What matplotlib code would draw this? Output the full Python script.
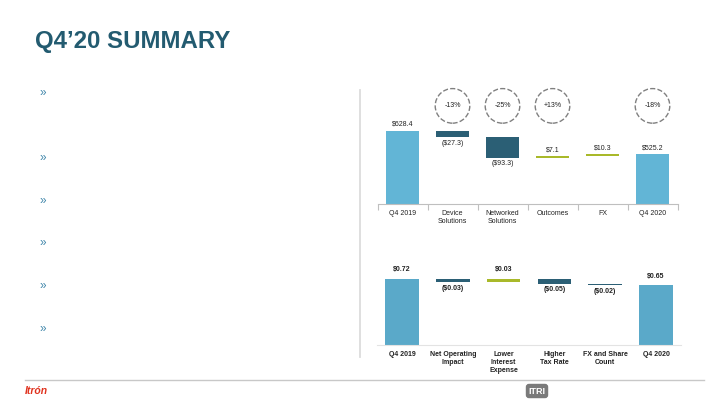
import matplotlib
matplotlib.use("Agg")
import matplotlib.pyplot as plt
from matplotlib.lines import Line2D
import numpy as np

plt.rcParams['font.family'] = ['Liberation Sans', 'DejaVu Sans']

# revenue bridge ($M)
rev_labels = ["Q4 2019", "Device\nSolutions", "Networked\nSolutions", "Outcomes", "FX", "Q4 2020"]
rev_values = [628.4, -27.3, -93.3, 7.1, 10.3, 525.2]
rev_pct_labels = ["-13%", "-25%", "+13%", "-18%"]
rev_pct_idx = [1, 2, 3, 5]

# EPS bridge ($)
eps_labels = ["Q4 2019", "Net Operating\nImpact", "Lower\nInterest\nExpense", "Higher\nTax Rate", "FX and Share\nCount", "Q4 2020"]
eps_values = [0.72, -0.03, 0.03, -0.05, -0.02, 0.65]

TITLE_C = "#235B70"
TOTAL_C = "#62B5D6"
TOTAL_C2 = "#5AA9C9"
NEG_C = "#2B5F75"
POS_C = "#A9B92A"
GREY = "#BFBFBF"


def money(v, fmt):
    s = ("${:" + fmt + "}").format(abs(v))
    return "(" + s + ")" if v < 0 else s


def waterfall(ax, labels, values, fmt, total_color, bold, ybase, up_off, dn_off):
    n = len(values)
    x = np.arange(n)
    running = 0.0
    for i, v in enumerate(values):
        if i == 0 or i == n - 1:
            bottom, height, col = ybase, v - ybase, total_color
            running = v
            va, off, ly = "bottom", up_off, v
        else:
            bottom = running if v > 0 else running + v
            height = abs(v)
            col = POS_C if v > 0 else NEG_C
            running += v
            if v > 0:
                va, off, ly = "bottom", up_off, bottom + height
            else:
                va, off, ly = "top", -dn_off, bottom
        ax.bar(x[i], height, bottom=bottom, width=0.66, color=col, edgecolor="none", zorder=2)
        ax.annotate(money(v, fmt), (x[i], ly), xytext=(0, off), textcoords="offset points",
                    ha="center", va=va, fontsize=5, color="#222222",
                    fontweight="bold" if bold else "normal")
    ax.set_xlim(-0.5, n - 0.5)
    ax.set_xticks(x)
    ax.set_xticklabels(labels, fontsize=5, color="#222222", fontweight="bold" if bold else "normal",
                       linespacing=1.25)
    for s in ["top", "right", "left"]:
        ax.spines[s].set_visible(False)
    ax.spines["bottom"].set_color(GREY)
    ax.spines["bottom"].set_linewidth(0.8)
    ax.set_yticks([])
    ax.tick_params(axis="x", which="major", length=0, pad=4)


fig = plt.figure(figsize=(7.2, 4.05), dpi=100)

# title
fig.text(35 / 720, 1 - 41.5 / 405, "Q4\u201920 SUMMARY", fontsize=17.3, fontweight="bold", color=TITLE_C,
         ha="left", va="center")

# bullet markers
for yp in [93, 158, 201, 243, 286, 329]:
    fig.text(39 / 720, 1 - yp / 405, "\u00bb", fontsize=8.5, color="#3F86AA", ha="left", va="center")

# divider
fig.add_artist(Line2D([360 / 720, 360 / 720], [1 - 90 / 405, 1 - 357 / 405], color="#DCDCDC", lw=1.3))

# top chart: revenue
ax1 = fig.add_axes([377.5 / 720, 1 - 204 / 405, 300 / 720, 89.2 / 405])
ax1.set_ylim(300, 700)
waterfall(ax1, rev_labels, rev_values, ".1f", TOTAL_C, False, 300, 2, 2)
ax1.set_xticks(np.arange(len(rev_values) + 1) - 0.5, minor=True)
ax1.tick_params(axis="x", which="minor", length=4, color=GREY, width=0.8)
ax1.scatter(rev_pct_idx, [1.10] * len(rev_pct_idx), s=620, facecolors="none", edgecolors="#808080",
            linestyles="--", linewidths=1.0, transform=ax1.get_xaxis_transform(), clip_on=False)
for i, lab in zip(rev_pct_idx, rev_pct_labels):
    ax1.text(i, 1.10, lab, transform=ax1.get_xaxis_transform(), ha="center", va="center",
             fontsize=5, color="#222222")

# bottom chart: EPS
ax2 = fig.add_axes([376.6 / 720, 60 / 405, 304.8 / 720, 82.5 / 405])
ax2.set_ylim(0, 0.9)
waterfall(ax2, eps_labels, eps_values, ".2f", TOTAL_C2, True, 0, 4, 2)
ax2.spines["bottom"].set_color("#E3E3E3")

# footer
fig.add_artist(Line2D([25 / 720, 704 / 720], [1 - 380 / 405, 1 - 380 / 405], color="#C8C8C8", lw=1))
fig.text(25 / 720, 1 - 391 / 405, "Itr\u00f3n", fontsize=7.5, fontstyle="italic", fontweight="bold",
         color="#E0321E", ha="left", va="center")
fig.text(537 / 720, 1 - 391 / 405, "ITRI", fontsize=6.5, fontweight="bold", color="white",
         ha="center", va="center",
         bbox=dict(boxstyle="round,pad=0.3,rounding_size=0.35", facecolor="#7A7A7A", edgecolor="none"))

fig.savefig("out.png", dpi=100)
